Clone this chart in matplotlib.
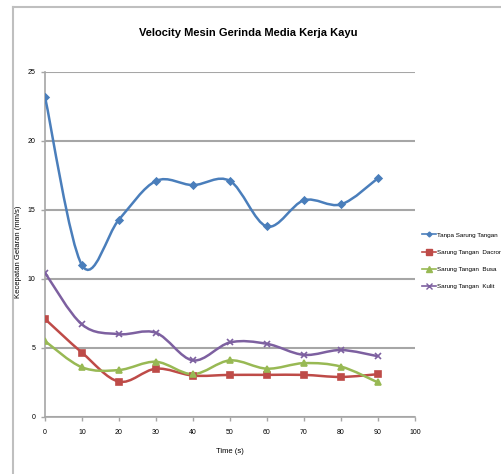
import numpy as np
import matplotlib
matplotlib.use("Agg")
import matplotlib.pyplot as plt
from matplotlib.path import Path
from matplotlib.patches import PathPatch
from matplotlib.lines import Line2D

plt.rcParams['font.family'] = ['Liberation Sans', 'DejaVu Sans']

time_s = [0, 10, 20, 30, 40, 50, 60, 70, 80, 90]
tanpa = [23.2, 11.0, 14.3, 17.1, 16.8, 17.1, 13.8, 15.7, 15.4, 17.3]
dacron = [7.1, 4.66, 2.56, 3.5, 3.0, 3.05, 3.05, 3.05, 2.9, 3.1]
busa = [5.5, 3.6, 3.4, 4.0, 3.1, 4.1, 3.5, 3.9, 3.65, 2.5]
kulit = [10.45, 6.7, 6.0, 6.1, 4.1, 5.4, 5.3, 4.5, 4.85, 4.4]

names = ['Tanpa Sarung Tangan', 'Sarung Tangan  Dacron', 'Sarung Tangan  Busa', 'Sarung Tangan  Kulit']
colors = ['#4A7EBB', '#BE4B48', '#98B954', '#7D60A0']
markers = ['D', 's', '^', 'x']
msizes = [3.5, 5, 5, 5]


def smooth_path(x, y):
    # excel style smoothed line: cubic bezier through each point
    p = np.column_stack([x, y]).astype(float)
    n = len(p)
    verts = [p[0]]
    codes = [Path.MOVETO]
    for i in range(n - 1):
        p0 = p[i - 1] if i > 0 else p[i]
        p3 = p[i + 2] if i + 2 < n else p[i + 1]
        c1 = p[i] + (p[i + 1] - p0) / 6.0
        c2 = p[i + 1] - (p3 - p[i]) / 6.0
        verts += [c1, c2, p[i + 1]]
        codes += [Path.CURVE4] * 3
    return Path(verts, codes)


fig = plt.figure(figsize=(5.02, 4.74), dpi=100)
ax = fig.add_axes([0.0896, 0.1203, 0.737, 0.728])

handles = []
for ys, c, m, ms, nm in zip([tanpa, dacron, busa, kulit], colors, markers, msizes, names):
    ax.add_patch(PathPatch(smooth_path(time_s, ys), fill=False, edgecolor=c, lw=1.8, zorder=3))
    ax.plot(time_s, ys, linestyle='none', marker=m, ms=ms, color=c, mew=1.2, zorder=4)
    handles.append(Line2D([], [], color=c, lw=1.2, marker=m, ms=ms - 1, mew=1.0, label=nm))

ax.set_xlim(0, 100)
ax.set_ylim(0, 25)
ax.set_xticks(np.arange(0, 101, 10))
ax.set_yticks(np.arange(0, 26, 5))
ax.yaxis.grid(True, color='#A6A6A6', lw=1.5)
ax.set_axisbelow(True)
for s in ['top', 'right']:
    ax.spines[s].set_visible(False)
for s in ['left', 'bottom']:
    ax.spines[s].set_color('#A6A6A6')
    ax.spines[s].set_linewidth(1.2)
ax.tick_params(axis='both', labelsize=5, color='#A6A6A6', length=3, width=1, pad=4)
ax.tick_params(axis='x', pad=6)
ax.set_xlabel('Time (s)', fontsize=5.5, labelpad=8)
ax.set_ylabel('Kecepatan Getaran (mm/s)', fontsize=5.5)
ax.yaxis.set_label_coords(-0.062, 0.48)

fig.text(0.494, 0.93, 'Velocity Mesin Gerinda Media Kerja Kayu', ha='center', va='center',
         fontsize=8, fontweight='bold')

fig.legend(handles=handles, loc='center left', bbox_to_anchor=(0.83, 0.45), frameon=False,
           fontsize=4.5, handlelength=2.2, labelspacing=1.9, handletextpad=0.2)

# chart border
fig.add_artist(Line2D([0.026, 0.026], [0.0, 0.985], color='#BFBFBF', lw=1.5, transform=fig.transFigure))
fig.add_artist(Line2D([0.026, 1.0], [0.985, 0.985], color='#BFBFBF', lw=1.5, transform=fig.transFigure))

fig.savefig('out.png', dpi=100)
